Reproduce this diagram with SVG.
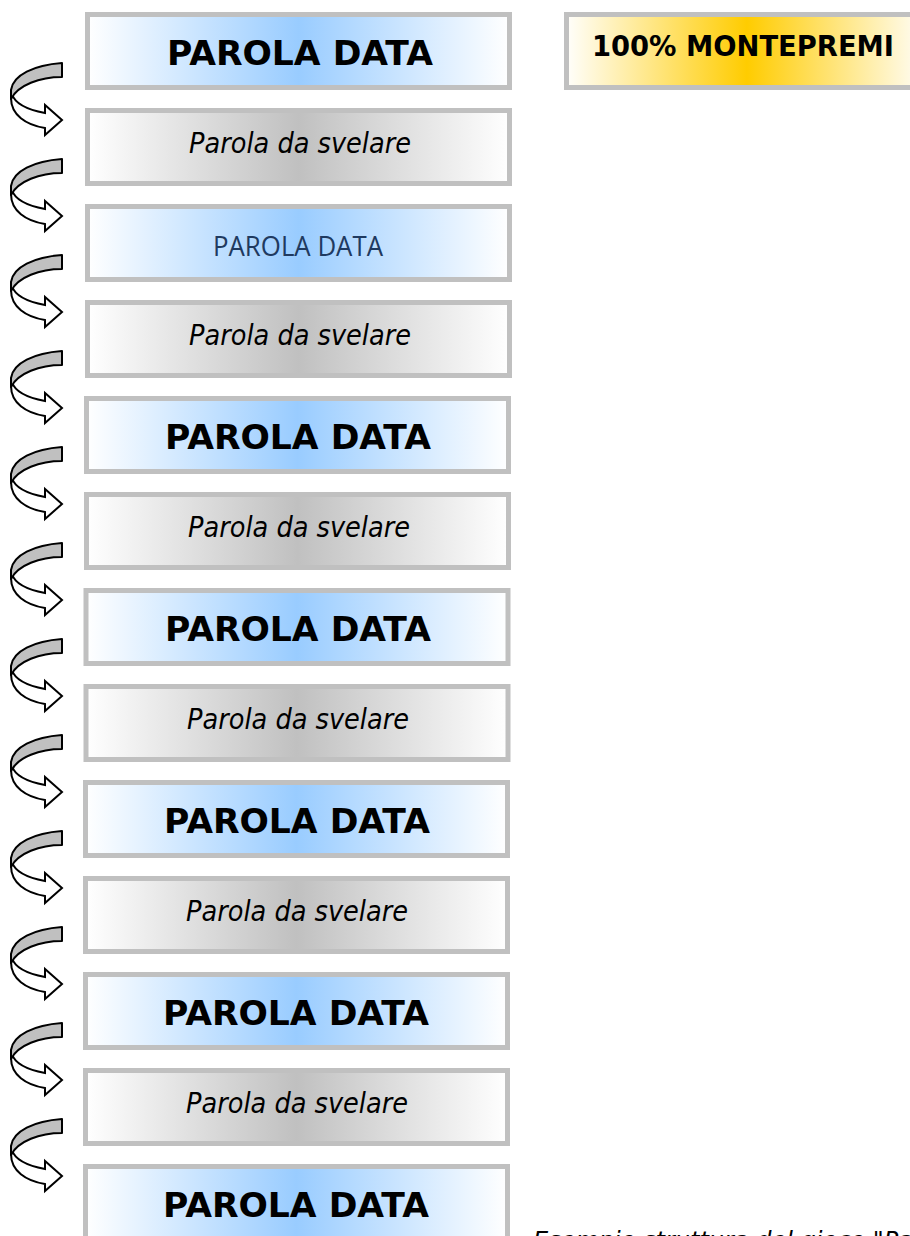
<svg xmlns="http://www.w3.org/2000/svg" width="910" height="1236" viewBox="0 0 910 1236">
  <style>
    .box { stroke: #C0C0C0; stroke-width: 5; }
    .blue { fill: url(#gBlue); }
    .grey { fill: url(#gGrey); }
    .gold { fill: url(#gGold); }
    .given { font-family: "DejaVu Sans", Verdana, sans-serif; font-weight: bold; font-size: 34px; fill: #000; text-anchor: middle; }
    .given-light { font-family: "Open Sans", "Noto Sans", sans-serif; font-size: 28px; fill: #1F3A60; text-anchor: middle; }
    .hidden { font-family: "DejaVu Sans", Verdana, sans-serif; font-style: italic; font-size: 28px; fill: #000; text-anchor: middle; }
    .prize { font-family: "DejaVu Sans", Verdana, sans-serif; font-weight: bold; font-size: 28px; fill: #000; }
    .note { font-family: "DejaVu Sans", Verdana, sans-serif; font-style: italic; font-size: 24px; fill: #000; }
    .curl-back { fill: #C0C0C0; stroke: #000; stroke-width: 2; stroke-linejoin: round; }
    .curl-front { fill: #FFFFFF; stroke: #000; stroke-width: 2; stroke-linejoin: miter; }
  </style>
  <defs>
    <linearGradient id="gBlue" x1="0" y1="0" x2="1" y2="0">
      <stop offset="0" stop-color="#FFFFFF"/>
      <stop offset="0.5" stop-color="#99CCFF"/>
      <stop offset="1" stop-color="#FFFFFF"/>
    </linearGradient>
    <linearGradient id="gGrey" x1="0" y1="0" x2="1" y2="0">
      <stop offset="0" stop-color="#FFFFFF"/>
      <stop offset="0.5" stop-color="#C0C0C0"/>
      <stop offset="1" stop-color="#FFFFFF"/>
    </linearGradient>
    <linearGradient id="gGold" gradientUnits="userSpaceOnUse" x1="564" y1="0" x2="930" y2="0">
      <stop offset="0" stop-color="#FFFFFF"/>
      <stop offset="0.5" stop-color="#FFCC00"/>
      <stop offset="1" stop-color="#FFFFFF"/>
    </linearGradient>
    <!-- curled ribbon arrow, origin at the top of the grey band -->
    <g id="curl">
      <path class="curl-front" d="M11,35 C11,52 26,62 45,65 L45,72 L62,57 L45,42 L45,50 C29,47 15,41 12,31 Z"/>
      <path class="curl-back" d="M62,0 C34,2 13,12 11,27 L11,36 C18,22 40,14 62,14 Z"/>
    </g>
  </defs>

  <!-- left column of word boxes -->
  <g id="box1"><rect class="box blue" x="87.5" y="14.5" width="422" height="73"/><text class="given" x="300" y="65" textLength="266" lengthAdjust="spacingAndGlyphs">PAROLA DATA</text></g>
  <g id="box2"><rect class="box grey" x="87.5" y="110.5" width="422" height="73"/><text class="hidden" x="300" y="153" textLength="222" lengthAdjust="spacingAndGlyphs">Parola da svelare</text></g>
  <g id="box3"><rect class="box blue" x="87.5" y="206.5" width="422" height="73"/><text class="given-light" x="298" y="256" textLength="170" lengthAdjust="spacingAndGlyphs">PAROLA DATA</text></g>
  <g id="box4"><rect class="box grey" x="87.5" y="302.5" width="422" height="73"/><text class="hidden" x="300" y="345" textLength="222" lengthAdjust="spacingAndGlyphs">Parola da svelare</text></g>
  <g id="box5"><rect class="box blue" x="86.5" y="398.5" width="422" height="73"/><text class="given" x="298" y="449" textLength="266" lengthAdjust="spacingAndGlyphs">PAROLA DATA</text></g>
  <g id="box6"><rect class="box grey" x="86.5" y="494.5" width="422" height="73"/><text class="hidden" x="299" y="537" textLength="222" lengthAdjust="spacingAndGlyphs">Parola da svelare</text></g>
  <g id="box7"><rect class="box blue" x="86" y="590.5" width="422" height="73"/><text class="given" x="298" y="641" textLength="266" lengthAdjust="spacingAndGlyphs">PAROLA DATA</text></g>
  <g id="box8"><rect class="box grey" x="86" y="686.5" width="422" height="73"/><text class="hidden" x="298" y="729" textLength="222" lengthAdjust="spacingAndGlyphs">Parola da svelare</text></g>
  <g id="box9"><rect class="box blue" x="85.5" y="782.5" width="422" height="73"/><text class="given" x="297" y="833" textLength="266" lengthAdjust="spacingAndGlyphs">PAROLA DATA</text></g>
  <g id="box10"><rect class="box grey" x="85.5" y="878.5" width="422" height="73"/><text class="hidden" x="297" y="921" textLength="222" lengthAdjust="spacingAndGlyphs">Parola da svelare</text></g>
  <g id="box11"><rect class="box blue" x="85.5" y="974.5" width="422" height="73"/><text class="given" x="296" y="1025" textLength="266" lengthAdjust="spacingAndGlyphs">PAROLA DATA</text></g>
  <g id="box12"><rect class="box grey" x="85.5" y="1070.5" width="422" height="73"/><text class="hidden" x="297" y="1113" textLength="222" lengthAdjust="spacingAndGlyphs">Parola da svelare</text></g>
  <g id="box13"><rect class="box blue" x="85.5" y="1166.5" width="422" height="73"/><text class="given" x="296" y="1217" textLength="266" lengthAdjust="spacingAndGlyphs">PAROLA DATA</text></g>

  <!-- prize box -->
  <g id="prize"><rect class="box gold" x="566.5" y="14.5" width="400" height="73"/><text class="prize" x="592" y="56" textLength="302" lengthAdjust="spacingAndGlyphs">100% MONTEPREMI</text></g>

  <!-- curled arrows between consecutive boxes -->
  <g id="connectors">
    <use href="#curl" x="0" y="63"/>
    <use href="#curl" x="0" y="159"/>
    <use href="#curl" x="0" y="255"/>
    <use href="#curl" x="0" y="351"/>
    <use href="#curl" x="0" y="447"/>
    <use href="#curl" x="0" y="543"/>
    <use href="#curl" x="0" y="639"/>
    <use href="#curl" x="0" y="735"/>
    <use href="#curl" x="0" y="831"/>
    <use href="#curl" x="0" y="927"/>
    <use href="#curl" x="0" y="1023"/>
    <use href="#curl" x="0" y="1119"/>
  </g>

  <!-- caption, running off the bottom edge -->
  <text class="note" x="533" y="1249">Esempio struttura del gioco "Parola data"</text>
</svg>
